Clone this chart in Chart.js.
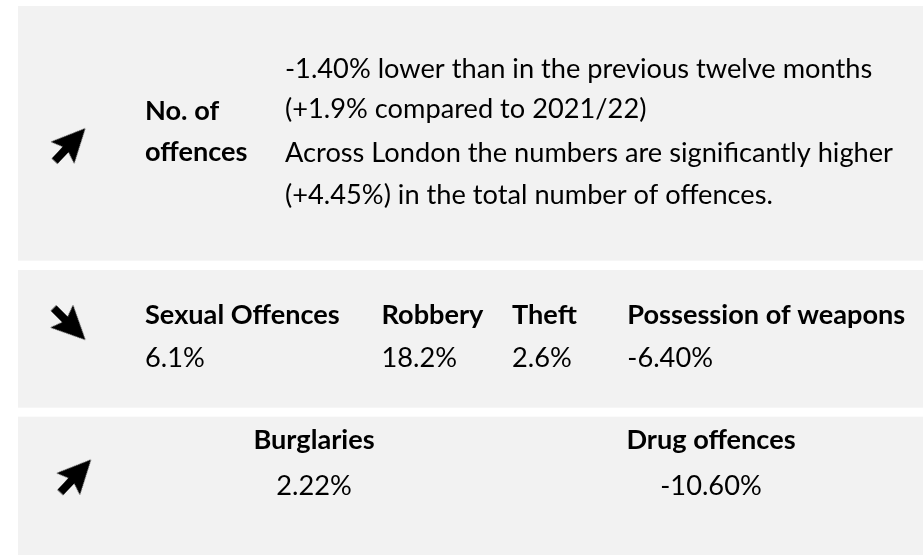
<!DOCTYPE html>
<html>
<head>
<meta charset="utf-8">
<script src="https://cdn.jsdelivr.net/npm/chart.js@4.4.0/dist/chart.umd.min.js"></script>
<style>
html,body{margin:0;padding:0;background:#fff;overflow:hidden}
canvas{display:block}
</style>
</head>
<body>
<canvas id="c" width="923" height="555"></canvas>
<script>
// ---------------- DATA ----------------
const headlineTitle = ['No. of', 'offences'];
const headlineChange = -1.40;          // vs previous twelve months
const headlineChangeVs2122 = 1.9;      // vs 2021/22
const londonChange = 4.45;             // across London
const crimeTypes = ['Sexual Offences', 'Robbery', 'Theft', 'Possession of weapons'];
const crimeChanges = [6.1, 18.2, 2.6, -6.40];
const crimeDecimals = [1, 1, 1, 2];
const otherTypes = ['Burglaries', 'Drug offences'];
const otherChanges = [2.22, -10.60];
const otherDecimals = [2, 2];
const panelTrends = ['up', 'down', 'up'];

// ---------------- LAYOUT (positions / styles) ----------------
const layout = {
  width: 923, height: 555,
  panelColor: '#f2f2f2',
  panels: [[18, 6, 923, 260.7], [18, 270, 923, 407.7], [18, 416.7, 923, 555]],
  arrows: [{x: 70, y: 144.7}, {x: 69.5, y: 324}, {x: 75.7, y: 476}],
  fontFamily: 'Lato',
  fontSize: 26,
  textColor: '#000000',
  regRef: {text: 'Across London the numbers are significantly higher', width: 608},
  boldRef: {text: 'Possession of weapons', width: 278},
  titleX: 145, titleBaselines: [120, 161],
  linesX: 285, linesBaselines: [78.3, 118.3, 161.7, 204],
  row2X: [145, 381.5, 512, 627.3], row2LabelY: 324, row2ValueY: 366.5,
  row3X: [314, 711], row3LabelY: 449, row3ValueY: 495
};

function pct(v, d) { return v.toFixed(d) + '%'; }
function signed(v, d) { return (v > 0 ? '+' : '') + v.toFixed(d) + '%'; }

const headlineLines = [
  pct(headlineChange, 2) + ' lower than in the previous twelve months',
  '(' + signed(headlineChangeVs2122, 1) + ' compared to 2021/22)',
  'Across London the numbers are significantly higher',
  '(' + signed(londonChange, 2) + ') in the total number of offences.'
];

// arrow icon (pointing up), rotated by Chart.js per point
function makeArrow() {
  const c = document.createElement('canvas');
  c.width = 48; c.height = 48;
  const g = c.getContext('2d');
  g.translate(24, 24 - 22.5);
  g.beginPath();
  g.moveTo(0, 0);
  g.lineTo(16, 33.5);
  g.lineTo(4, 29);
  g.lineTo(4, 45);
  g.lineTo(-4, 45);
  g.lineTo(-4, 29);
  g.lineTo(-16, 33.5);
  g.closePath();
  g.fillStyle = '#000';
  g.fill();
  return c;
}
const arrowImg = makeArrow();

const panelPlugin = {
  id: 'panels',
  beforeDraw(chart) {
    const ctx = chart.ctx, xs = chart.scales.x, ys = chart.scales.y;
    ctx.save();
    ctx.fillStyle = '#ffffff';
    ctx.fillRect(0, 0, chart.width, chart.height);
    ctx.fillStyle = layout.panelColor;
    layout.panels.forEach(p => {
      const x0 = xs.getPixelForValue(p[0]), y0 = ys.getPixelForValue(p[1]);
      const x1 = xs.getPixelForValue(p[2]), y1 = ys.getPixelForValue(p[3]);
      ctx.fillRect(x0, y0, x1 - x0, y1 - y0);
    });
    ctx.restore();
  }
};

const textPlugin = {
  id: 'texts',
  afterDatasetsDraw(chart) {
    const ctx = chart.ctx, xs = chart.scales.x, ys = chart.scales.y;
    const reg = layout.fontSize + 'px ' + layout.fontFamily;
    const bold = 'bold ' + layout.fontSize + 'px ' + layout.fontFamily;
    ctx.save();
    ctx.font = reg;
    const sxR = layout.regRef.width / ctx.measureText(layout.regRef.text).width;
    ctx.font = bold;
    const sxB = layout.boldRef.width / ctx.measureText(layout.boldRef.text).width;
    ctx.fillStyle = layout.textColor;
    ctx.textBaseline = 'alphabetic';
    function draw(str, x, y, isBold, align) {
      ctx.save();
      ctx.font = isBold ? bold : reg;
      ctx.textAlign = align || 'left';
      ctx.translate(xs.getPixelForValue(x), ys.getPixelForValue(y));
      ctx.scale(isBold ? sxB : sxR, 1);
      ctx.fillText(str, 0, 0);
      ctx.restore();
    }
    headlineTitle.forEach((t, i) => draw(t, layout.titleX, layout.titleBaselines[i], true));
    headlineLines.forEach((t, i) => draw(t, layout.linesX, layout.linesBaselines[i], false));
    crimeTypes.forEach((t, i) => {
      draw(t, layout.row2X[i], layout.row2LabelY, true);
      draw(pct(crimeChanges[i], crimeDecimals[i]), layout.row2X[i], layout.row2ValueY, false);
    });
    otherTypes.forEach((t, i) => {
      draw(t, layout.row3X[i], layout.row3LabelY, true, 'center');
      draw(pct(otherChanges[i], otherDecimals[i]), layout.row3X[i], layout.row3ValueY, false, 'center');
    });
    ctx.restore();
  }
};

new Chart(document.getElementById('c'), {
  type: 'scatter',
  data: {
    datasets: [{
      data: layout.arrows.map((p, i) => ({x: p.x, y: p.y, trend: panelTrends[i]})),
      pointStyle: arrowImg,
      radius: 2,
      rotation: c => (c.raw && c.raw.trend === 'down') ? 135 : 43,
      clip: false
    }]
  },
  options: {
    responsive: false,
    animation: false,
    events: [],
    layout: {padding: 0, autoPadding: false},
    plugins: {legend: {display: false}, tooltip: {enabled: false}, title: {display: false}},
    scales: {
      x: {type: 'linear', display: false, min: 0, max: layout.width, offset: false},
      y: {type: 'linear', display: false, min: 0, max: layout.height, reverse: true, offset: false}
    }
  },
  plugins: [panelPlugin, textPlugin]
});
</script>
</body>
</html>
